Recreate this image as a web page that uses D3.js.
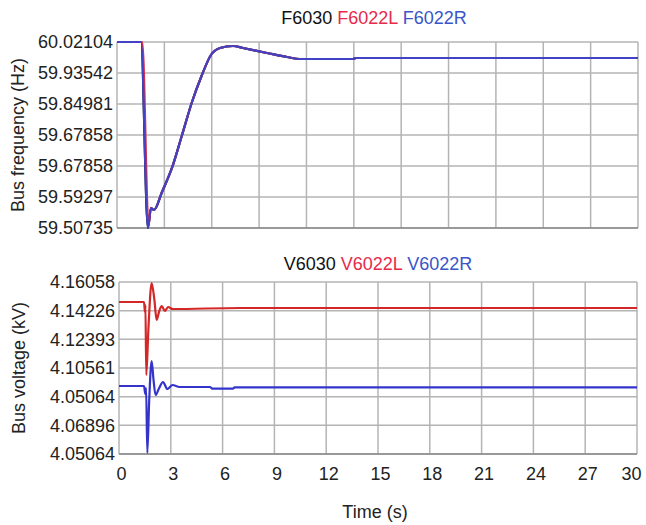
<!DOCTYPE html>
<html>
<head>
<meta charset="utf-8">
<script src="https://cdn.jsdelivr.net/npm/d3@7"></script>
<style>
  body { margin: 0; background: #fff; }
  text { font-family: "Liberation Sans", Arial, sans-serif; }
</style>
</head>
<body>
<div id="chart"></div>
<script>
var svgWidth = 646;
var svgHeight = 525;

// tick labels as printed in the figure
var freqTickLabels = ["60.02104", "59.93542", "59.84981", "59.67858", "59.67858", "59.59297", "59.50735"];
var voltTickLabels = ["4.16058", "4.14226", "4.12393", "4.10561", "4.05064", "4.06896", "4.05064"];
var timeTicks = [0, 3, 6, 9, 12, 15, 18, 21, 24, 27, 30];

// frequency traces (Hz)
var fTime = [0, 1.52, 1.96, 2.15, 2.34, 2.85, 3.48, 4.12, 4.75, 5.38, 5.95, 6.52, 7.35, 7.98, 9.5, 10.77, 11.59, 14.95, 15.14, 33];
var fR = [60.02104, 60.02104, 59.50735, 59.5626, 59.5571, 59.6068, 59.6731, 59.7642, 59.8553, 59.9299, 59.9851, 60.0045, 60.0100, 60.0045, 59.9907, 59.9796, 59.9741, 59.9741, 59.9769, 59.9769];
var fLTime = [0, 1.6, 2.0, 2.15, 2.34, 2.85, 3.48, 4.12, 4.75, 5.38, 5.95, 6.52, 7.35, 7.98, 9.5, 10.77, 11.59, 14.95, 15.14, 33];
var fL = [60.02104, 60.02104, 59.515, 59.5626, 59.5571, 59.6068, 59.6731, 59.7642, 59.8553, 59.9299, 59.9851, 60.0045, 60.0100, 60.0045, 59.9907, 59.9796, 59.9741, 59.9741, 59.9769, 59.9769];

// voltage traces (kV)
var vLTime = [0, 1.45, 1.5, 1.53, 1.58, 1.7, 1.89, 2.05, 2.18, 2.33, 2.47, 2.66, 2.84, 3.1, 7, 30];
var vL = [4.14780, 4.14780, 4.14140, 4.14588, 4.10113, 4.12990, 4.15994, 4.14907, 4.13629, 4.14204, 4.14524, 4.14204, 4.14460, 4.14332, 4.14396, 4.14396];
var vRTime = [0, 1.45, 1.52, 1.57, 1.64, 1.75, 1.89, 2.0, 2.12, 2.3, 2.55, 2.8, 3.1, 3.5, 5.27, 5.4, 6.6, 6.7, 30];
var vR = [4.09410, 4.09410, 4.08899, 4.09282, 4.05128, 4.08515, 4.11008, 4.09794, 4.08835, 4.09218, 4.09666, 4.09218, 4.09474, 4.09346, 4.09346, 4.09238, 4.09238, 4.09327, 4.09327];

var svg = d3.select("#chart")
  .append("svg")
  .attr("width", svgWidth)
  .attr("height", svgHeight);

var gridColor = "#b4b4b4";
var fontSize = "18px";

// ---------- top panel: frequency ----------
var fx = d3.scaleLinear().domain([0, 33]).range([117, 638]);
var fy = d3.scaleLinear().domain([59.50735, 60.02104]).range([228, 42]);
var fyTicks = d3.range(7).map(i => 60.02104 - i * (60.02104 - 59.50735) / 6);

var freqGroup = svg.append("g");

freqGroup.append("g")
  .selectAll("line")
  .data(d3.range(0, 34, 3))
  .enter()
  .append("line")
  .attr("x1", d => fx(d)).attr("x2", d => fx(d))
  .attr("y1", 42).attr("y2", 228)
  .attr("stroke", gridColor).attr("stroke-width", 1.5);

freqGroup.append("g")
  .selectAll("line")
  .data(fyTicks)
  .enter()
  .append("line")
  .attr("x1", 117).attr("x2", 638)
  .attr("y1", d => fy(d)).attr("y2", d => fy(d))
  .attr("stroke", gridColor).attr("stroke-width", 1.5);

freqGroup.append("line")
  .attr("x1", 117).attr("x2", 638).attr("y1", 228).attr("y2", 228)
  .attr("stroke", "#8a8a8a").attr("stroke-width", 1.5);

freqGroup.append("g")
  .selectAll("text")
  .data(fyTicks)
  .enter()
  .append("text")
  .attr("x", 113)
  .attr("y", d => fy(d))
  .attr("dy", "0.36em")
  .attr("text-anchor", "end")
  .attr("font-size", fontSize)
  .attr("fill", "#222")
  .text((d, i) => freqTickLabels[i]);

var fLine = d3.line().x(d => fx(d[0])).y(d => fy(d[1])).curve(d3.curveMonotoneX);

freqGroup.append("path")
  .attr("d", fLine(fTime.map((t, i) => [t, fR[i]])))
  .attr("fill", "none").attr("stroke", "#000").attr("stroke-width", 2.2);
freqGroup.append("path")
  .attr("d", fLine(fLTime.map((t, i) => [t, fL[i]])))
  .attr("fill", "none").attr("stroke", "#d8304a").attr("stroke-width", 2.2);
freqGroup.append("path")
  .attr("d", fLine(fTime.map((t, i) => [t, fR[i]])))
  .attr("fill", "none").attr("stroke", "#4242c4").attr("stroke-width", 2.2);

var t1 = freqGroup.append("text")
  .attr("x", 374).attr("y", 24)
  .attr("text-anchor", "middle")
  .attr("font-size", fontSize);
t1.append("tspan").attr("fill", "#111").text("F6030 ");
t1.append("tspan").attr("fill", "#e8294a").text("F6022L ");
t1.append("tspan").attr("fill", "#3a55c8").text("F6022R");

freqGroup.append("text")
  .attr("transform", "translate(24,135) rotate(-90)")
  .attr("text-anchor", "middle")
  .attr("font-size", fontSize)
  .attr("fill", "#222")
  .text("Bus frequency (Hz)");

// ---------- bottom panel: voltage ----------
var vx = d3.scaleLinear().domain([0, 30]).range([119, 637]);
var vy = d3.scaleLinear().domain([4.05064, 4.16058]).range([454, 282]);
var vyTicks = d3.range(7).map(i => 4.16058 - i * (4.16058 - 4.05064) / 6);

var voltGroup = svg.append("g");

voltGroup.append("g")
  .selectAll("line")
  .data(timeTicks)
  .enter()
  .append("line")
  .attr("x1", d => vx(d)).attr("x2", d => vx(d))
  .attr("y1", 282).attr("y2", 454)
  .attr("stroke", gridColor).attr("stroke-width", 1.5);

voltGroup.append("g")
  .selectAll("line")
  .data(vyTicks)
  .enter()
  .append("line")
  .attr("x1", 119).attr("x2", 637)
  .attr("y1", d => vy(d)).attr("y2", d => vy(d))
  .attr("stroke", gridColor).attr("stroke-width", 1.5);

voltGroup.append("line")
  .attr("x1", 119).attr("x2", 637).attr("y1", 454).attr("y2", 454)
  .attr("stroke", "#8a8a8a").attr("stroke-width", 1.5);

voltGroup.append("g")
  .selectAll("text")
  .data(vyTicks)
  .enter()
  .append("text")
  .attr("x", 115)
  .attr("y", d => vy(d))
  .attr("dy", "0.36em")
  .attr("text-anchor", "end")
  .attr("font-size", fontSize)
  .attr("fill", "#222")
  .text((d, i) => voltTickLabels[i]);

var xAxis = d3.axisBottom(vx).tickValues(timeTicks).tickSize(0).tickPadding(13);
var xg = voltGroup.append("g")
  .attr("transform", "translate(0,454)")
  .call(xAxis);
xg.select(".domain").remove();
xg.selectAll("text").attr("font-size", fontSize).attr("fill", "#222")
  .attr("font-family", "'Liberation Sans', Arial, sans-serif")
  .attr("dx", d => d === 30 ? "-6" : "2");

var vLine = d3.line().x(d => vx(d[0])).y(d => vy(d[1])).curve(d3.curveMonotoneX);

voltGroup.append("path")
  .attr("d", vLine(vLTime.map((t, i) => [t, vL[i]])))
  .attr("fill", "none").attr("stroke", "#d42828").attr("stroke-width", 2.2);
voltGroup.append("path")
  .attr("d", vLine(vRTime.map((t, i) => [t, vR[i]])))
  .attr("fill", "none").attr("stroke", "#3434cc").attr("stroke-width", 2.2);

var t2 = voltGroup.append("text")
  .attr("x", 378).attr("y", 270)
  .attr("text-anchor", "middle")
  .attr("font-size", fontSize);
t2.append("tspan").attr("fill", "#111").text("V6030 ");
t2.append("tspan").attr("fill", "#e8294a").text("V6022L ");
t2.append("tspan").attr("fill", "#3a55c8").text("V6022R");

voltGroup.append("text")
  .attr("transform", "translate(25,368) rotate(-90)")
  .attr("text-anchor", "middle")
  .attr("font-size", fontSize)
  .attr("fill", "#222")
  .text("Bus voltage (kV)");

svg.append("text")
  .attr("x", 375).attr("y", 518)
  .attr("text-anchor", "middle")
  .attr("font-size", fontSize)
  .attr("fill", "#222")
  .text("Time (s)");
</script>
</body>
</html>
